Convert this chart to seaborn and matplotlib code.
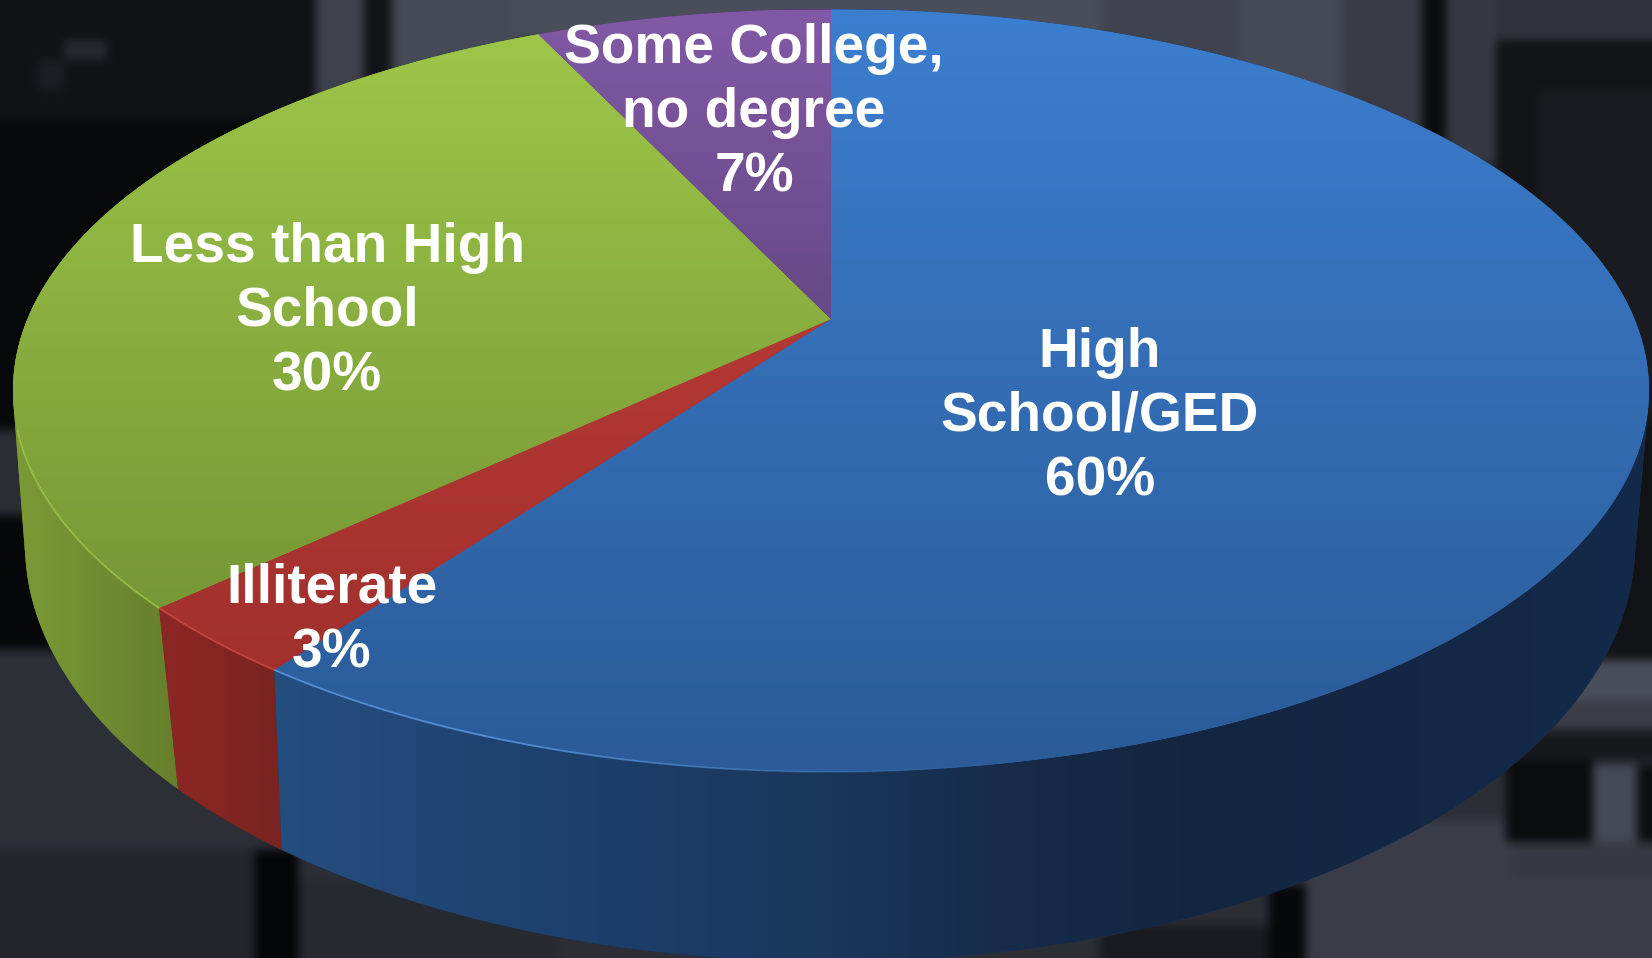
import numpy as np
import matplotlib
matplotlib.use("Agg")
import matplotlib.pyplot as plt
from matplotlib.patches import Polygon
from matplotlib.collections import LineCollection
import seaborn as sns

# Share of each education level, clockwise from twelve o'clock
categories = ["High\nSchool/GED", "Illiterate", "Less than High\nSchool", "Some College,\nno degree"]
shares = [60, 3, 30, 7]
label_x = [1100, 332, 327, 754]
label_y = [417, 621, 312, 113]

# Colour at the back and front of the top face
face_back = ["#3c7ecf", "#c53f3a", "#9fc84a", "#8159a6"]
face_front = ["#2b5b98", "#9c2e2b", "#6b8a30", "#422e55"]
# Colour of the outer wall, left to right
wall_stops = [
    [(280, "#244e80"), (520, "#1e4270"), (831, "#1a365c"), (1000, "#162c4a"), (1200, "#132641"), (1640, "#142a4a")],
    [(180, "#8a2724"), (280, "#7a2320")],
    [(20, "#7b9a36"), (180, "#657e2c")],
    [(500, "#4d3768"), (831, "#4d3768")],
]
rim_light = ["#5a98e0", "#d8504a", "#9cc44a", "#8159a6"]

# Dim photographic backdrop: x0, y0, x1, y1, grey level
backdrop_patches = [
    (0, 0, 1652, 958, 45),
    (0, 0, 316, 120, 18), (0, 120, 316, 430, 9), (0, 430, 27, 515, 44), (0, 515, 64, 650, 8),
    (316, 0, 364, 220, 64), (364, 0, 392, 220, 19), (392, 0, 514, 220, 72), (514, 0, 1100, 40, 76),
    (64, 40, 107, 60, 40), (38, 60, 64, 90, 30),
    (0, 650, 257, 850, 46), (0, 850, 255, 958, 36), (255, 850, 298, 958, 5), (298, 880, 557, 958, 40),
    (1100, 0, 1238, 140, 66), (1238, 0, 1343, 120, 72), (1343, 0, 1422, 140, 58), (1422, 0, 1446, 160, 12),
    (1446, 0, 1496, 160, 56), (1496, 0, 1652, 40, 50), (1496, 40, 1652, 660, 19), (1539, 90, 1652, 420, 27),
    (1100, 925, 1269, 958, 26), (1269, 885, 1306, 958, 8), (1306, 820, 1652, 958, 60), (1306, 850, 1511, 958, 60),
    (1562, 660, 1652, 700, 76), (1541, 700, 1652, 730, 60), (1501, 730, 1652, 760, 24),
    (1506, 760, 1593, 842, 12), (1593, 765, 1637, 850, 72), (1637, 765, 1652, 855, 14), (1511, 842, 1652, 880, 56),
]

W, H = 1652, 958
sns.set_theme(style="white")
plt.rcParams["font.family"] = ["Liberation Sans", "DejaVu Sans"]
fig, ax = plt.subplots(figsize=(W / 100, H / 100), dpi=100)
fig.subplots_adjust(0, 0, 1, 1)
ax.set_axis_off()

# Backdrop, softened with a separable box filter
canvas = np.zeros((H, W))
for x0, y0, x1, y1, grey in backdrop_patches:
    canvas[y0:y1, x0:x1] = grey
for axis in (0, 1):
    for _ in range(2):
        kernel = np.ones(11) / 11
        pad = [(0, 0), (0, 0)]
        pad[axis] = (5, 5)
        padded = np.pad(canvas, pad, mode="edge")
        canvas = np.apply_along_axis(lambda s: np.convolve(s, kernel, mode="valid"), axis, padded)
tint = np.array([0.98, 1.03, 1.2])
ax.imshow(np.clip(canvas[..., None] * tint, 0, 255).astype(np.uint8), extent=(0, W, H, 0), aspect="auto",
          interpolation="bilinear", zorder=0)

# Projection of the pie disc
APEX_X, APEX_Y = 831.0, 319.0
TILT = -0.1874
SCALE_X, SCALE_Y = 803.5, 368.0
BASE_X, BASE_Y, BASE_A, BASE_B = 830.0, 544.0, 805.0, 417.6


def top_rim(theta):
    u, v = np.sin(theta), -np.cos(theta)
    d = 1 + TILT * v
    return APEX_X + SCALE_X * u / d, APEX_Y + SCALE_Y * v / d


def base_rim(theta):
    alpha = theta - np.pi
    psi = alpha + np.radians(7.3) * np.sin(2 * alpha)
    return BASE_X - BASE_A * np.sin(psi), BASE_Y + BASE_B * np.cos(psi)


def convex_hull(points):
    pts = sorted(set(map(tuple, np.round(points, 3))))
    def half(seq):
        out = []
        for p in seq:
            while len(out) > 1 and (out[-1][0] - out[-2][0]) * (p[1] - out[-2][1]) - (out[-1][1] - out[-2][1]) * (p[0] - out[-2][0]) <= 0:
                out.pop()
            out.append(p)
        return out[:-1]
    return np.array(half(pts) + half(pts[::-1]))


def fill_vertical(poly, c_back, c_front, y0, y1, z):
    ramp = np.array(sns.blend_palette([c_back, c_front], n_colors=256))[:, None, :3]
    shape = Polygon(poly, closed=True, facecolor=sns.blend_palette([c_back, c_front], 3)[1],
                    edgecolor="none", zorder=z, transform=ax.transData)
    ax.add_patch(shape)
    im = ax.imshow(ramp, extent=(0, W, y1, y0), aspect="auto", interpolation="bilinear", zorder=z + 0.1)
    im.set_clip_path(shape)


def fill_horizontal(poly, stops, z):
    xs = np.arange(0, W)
    px = [s[0] for s in stops]
    rgb = np.array([matplotlib.colors.to_rgb(s[1]) for s in stops])
    row = np.stack([np.interp(xs, px, rgb[:, i]) for i in range(3)], axis=1)[None, :, :]
    shape = Polygon(poly, closed=True, facecolor=tuple(rgb.mean(axis=0)), edgecolor="none", zorder=z,
                    transform=ax.transData)
    ax.add_patch(shape)
    im = ax.imshow(row, extent=(0, W, H, 0), aspect="auto", interpolation="bilinear", zorder=z + 0.1)
    im.set_clip_path(shape)


fractions = np.array(shares) / np.sum(shares)
edges = 2 * np.pi * np.concatenate([[0], np.cumsum(fractions)])

# Outer wall first, then the top face over it; earlier slices sit in front
for i in range(len(shares)):
    th = np.linspace(edges[i], edges[i + 1], 240)
    wall = np.vstack([np.column_stack(top_rim(th)), np.column_stack(base_rim(th))])
    fill_horizontal(convex_hull(wall), wall_stops[i], 3.5 - i * 0.2)

for i in range(len(shares)):
    th = np.linspace(edges[i], edges[i + 1], 240)
    rx, ry = top_rim(th)
    poly = np.vstack([[APEX_X, APEX_Y], np.column_stack([rx, ry])])
    fill_vertical(poly, face_back[i], face_front[i], 10, 772, 4 + i * 0.2)

    # Thin light edge where the face meets the wall, fading to the right
    pts = np.column_stack([rx, ry])
    segs = np.stack([pts[:-1], pts[1:]], axis=1)
    fade = np.clip((1000 - pts[:-1, 0]) / 500, 0, 1) * (pts[:-1, 1] > 430)
    colors = np.tile(matplotlib.colors.to_rgba(rim_light[i]), (len(segs), 1))
    colors[:, 3] = 0.85 * fade
    ax.add_collection(LineCollection(segs, colors=colors, linewidths=1.3, zorder=5))

for name, share, x, y in zip(categories, shares, label_x, label_y):
    ax.text(x, y, f"{name}\n{share}%", ha="center", va="center", multialignment="center", color="white",
            fontsize=39.7, fontweight="bold", linespacing=1.31, zorder=8)

ax.set_xlim(0, W)
ax.set_ylim(H, 0)
fig.savefig("out.png", dpi=100, facecolor="#15161a")
